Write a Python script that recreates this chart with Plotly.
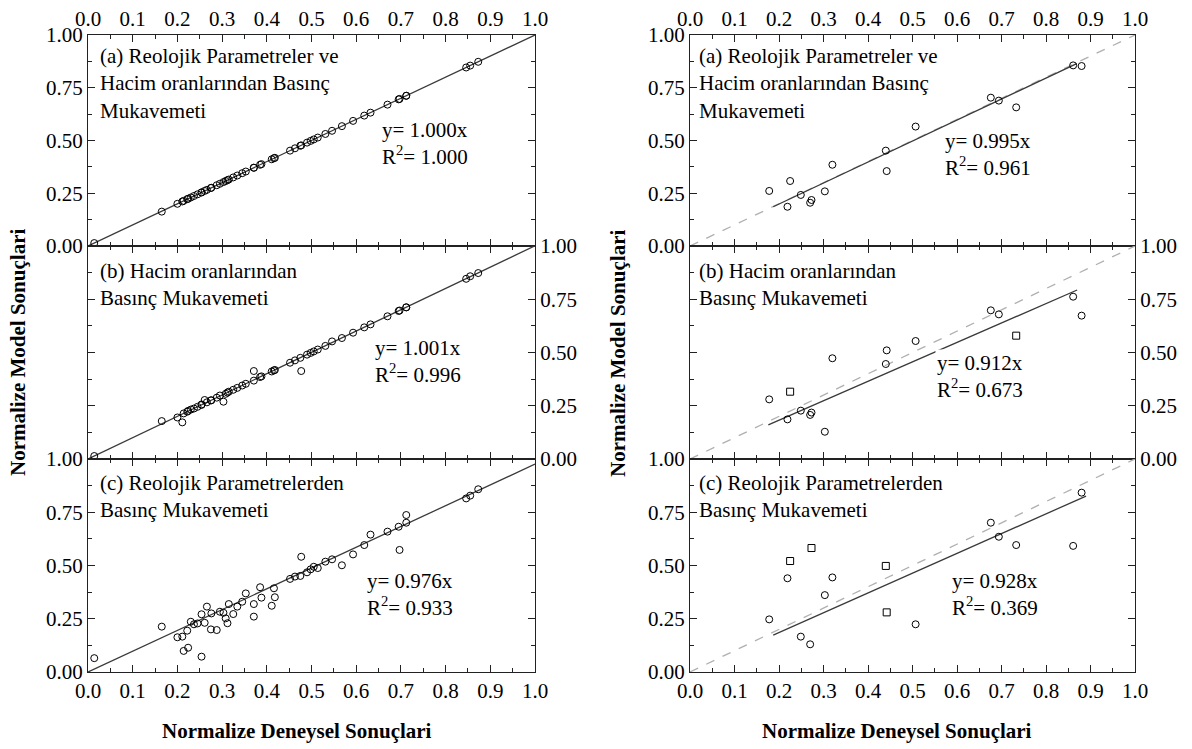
import plotly.graph_objects as go

# ---------------- data ----------------
left_x = [0.014, 0.165, 0.200, 0.211, 0.214, 0.222, 0.224, 0.230, 0.237, 0.245,
          0.254, 0.254, 0.261, 0.266, 0.275, 0.276, 0.288, 0.295, 0.303, 0.308,
          0.312, 0.315, 0.325, 0.334, 0.345, 0.353, 0.371, 0.371, 0.385, 0.388,
          0.411, 0.416, 0.418, 0.452, 0.463, 0.475, 0.477, 0.490, 0.498, 0.505,
          0.514, 0.531, 0.546, 0.568, 0.593, 0.618, 0.632, 0.670, 0.695, 0.697,
          0.712, 0.712, 0.846, 0.855, 0.873]
left_ya = [0.014, 0.163, 0.200, 0.211, 0.214, 0.222, 0.224, 0.230, 0.237, 0.245,
           0.254, 0.254, 0.261, 0.266, 0.275, 0.276, 0.288, 0.295, 0.303, 0.308,
           0.312, 0.315, 0.325, 0.334, 0.345, 0.353, 0.371, 0.371, 0.385, 0.388,
           0.411, 0.416, 0.418, 0.452, 0.463, 0.475, 0.477, 0.490, 0.498, 0.505,
           0.514, 0.531, 0.546, 0.568, 0.593, 0.618, 0.632, 0.670, 0.695, 0.697,
           0.712, 0.712, 0.846, 0.855, 0.873]
left_yb = [0.014, 0.178, 0.195, 0.172, 0.214, 0.222, 0.226, 0.232, 0.237, 0.245,
           0.254, 0.256, 0.277, 0.266, 0.275, 0.276, 0.288, 0.298, 0.269, 0.306,
           0.312, 0.316, 0.325, 0.334, 0.345, 0.353, 0.413, 0.368, 0.385, 0.388,
           0.411, 0.416, 0.418, 0.452, 0.463, 0.475, 0.413, 0.490, 0.498, 0.505,
           0.514, 0.531, 0.552, 0.568, 0.593, 0.618, 0.632, 0.670, 0.695, 0.697,
           0.712, 0.712, 0.846, 0.858, 0.873]
left_yc = [0.065, 0.213, 0.163, 0.166, 0.099, 0.194, 0.114, 0.236, 0.224, 0.228,
           0.271, 0.072, 0.231, 0.307, 0.200, 0.275, 0.197, 0.283, 0.278, 0.252,
           0.229, 0.319, 0.272, 0.307, 0.330, 0.369, 0.319, 0.260, 0.398, 0.349,
           0.311, 0.393, 0.351, 0.437, 0.448, 0.451, 0.541, 0.468, 0.482, 0.494,
           0.488, 0.518, 0.529, 0.501, 0.552, 0.596, 0.645, 0.659, 0.682, 0.573,
           0.737, 0.701, 0.815, 0.828, 0.858]

right_x = [0.178, 0.219, 0.225, 0.249, 0.270, 0.273, 0.303, 0.320,
           0.440, 0.442, 0.507, 0.676, 0.694, 0.733, 0.861, 0.880]
right_ya = [0.261, 0.186, 0.308, 0.242, 0.205, 0.218, 0.259, 0.385,
            0.452, 0.355, 0.566, 0.703, 0.689, 0.657, 0.856, 0.853]
right_yb = [0.280, 0.186, 0.316, 0.227, 0.207, 0.218, 0.128, 0.473,
            0.446, 0.510, 0.554, 0.698, 0.679, 0.579, 0.762, 0.673]
right_yc = [0.247, 0.440, 0.521, 0.166, 0.130, 0.582, 0.361, 0.444,
            0.498, 0.280, 0.224, 0.701, 0.635, 0.596, 0.592, 0.842]

left_slopes = [1.000, 1.001, 0.976]
left_r2 = [1.000, 0.996, 0.933]
right_slopes = [0.995, 0.912, 0.928]
right_r2 = [0.961, 0.673, 0.369]
right_fit_start = [0.187, 0.176, 0.187]
right_fit_end = [0.869, 0.870, 0.890]

panel_titles = ["(a) Reolojik Parametreler ve<br>Hacim oranlarından Basınç<br>Mukavemeti",
                "(b) Hacim oranlarından<br>Basınç Mukavemeti",
                "(c) Reolojik Parametrelerden<br>Basınç Mukavemeti"]
x_ticks = [0.0, 0.1, 0.2, 0.3, 0.4, 0.5, 0.6, 0.7, 0.8, 0.9, 1.0]
y_ticks = [0.0, 0.25, 0.5, 0.75, 1.0]
x_title = "Normalize Deneysel Sonuçlari"
y_title = "Normalize Model Sonuçlari"

# marker styles (indices drawn as squares in the right panels)
right_square_idx = [[], [2, 13], [2, 5, 8, 9]]

# ---------------- layout geometry ----------------
W, H = 1192, 749
FONT = "Liberation Serif, Times New Roman, serif"
col_px = [(88, 535), (690, 1135)]
row_px = [(35, 246), (246, 459), (459, 672)]

def dx(a, b):
    return [a / W, b / W]

def dy(top, bottom):
    return [1 - bottom / H, 1 - top / H]

fig = go.Figure()
layout = {}
annotations = []

left_ys = [left_ya, left_yb, left_yc]
right_ys = [right_ya, right_yb, right_yc]

for c in range(2):
    for r in range(3):
        i = c * 3 + r + 1
        xa = "x" if i == 1 else f"x{i}"
        ya = "y" if i == 1 else f"y{i}"
        if c == 0:
            fig.add_trace(go.Scatter(x=[0, 1], y=[0, left_slopes[r]], mode="lines",
                                     line=dict(color="#3a3a3a", width=1.3),
                                     xaxis=xa, yaxis=ya, showlegend=False, hoverinfo="skip"))
            fig.add_trace(go.Scatter(x=left_x, y=left_ys[r], mode="markers",
                                     marker=dict(symbol="circle-open", size=7,
                                                 color="black", line=dict(width=1)),
                                     xaxis=xa, yaxis=ya, showlegend=False))
            slope, r2 = left_slopes[r], left_r2[r]
        else:
            fig.add_trace(go.Scatter(x=[0, 1], y=[0, 1], mode="lines",
                                     line=dict(color="#b0b0b0", width=1.3, dash="dash"),
                                     xaxis=xa, yaxis=ya, showlegend=False, hoverinfo="skip"))
            xs, xe = right_fit_start[r], right_fit_end[r]
            fig.add_trace(go.Scatter(x=[xs, xe], y=[xs * right_slopes[r], xe * right_slopes[r]],
                                     mode="lines", line=dict(color="#3a3a3a", width=1.3),
                                     xaxis=xa, yaxis=ya, showlegend=False, hoverinfo="skip"))
            syms = ["square-open" if k in right_square_idx[r] else "circle-open"
                    for k in range(len(right_x))]
            fig.add_trace(go.Scatter(x=right_x, y=right_ys[r], mode="markers",
                                     marker=dict(symbol=syms, size=7,
                                                 color="black", line=dict(width=1)),
                                     xaxis=xa, yaxis=ya, showlegend=False))
            slope, r2 = right_slopes[r], right_r2[r]

        x0, x1 = col_px[c]
        t, b = row_px[r]
        xkey = "xaxis" if i == 1 else f"xaxis{i}"
        ykey = "yaxis" if i == 1 else f"yaxis{i}"
        layout[xkey] = dict(
            domain=dx(x0, x1), range=[0, 1], anchor=ya, automargin=False,
            showline=True, linecolor="#222", linewidth=1, mirror="ticks",
            ticks="inside", ticklen=7, tickwidth=1, tickcolor="#222",
            tickvals=x_ticks, ticktext=[f"{v:.1f}" for v in x_ticks],
            minor=dict(ticks="inside", ticklen=4, tickvals=[k / 20 for k in range(1, 20, 2)],
                       tickcolor="#222", showgrid=False),
            showgrid=False, zeroline=False,
            side="top" if r == 0 else "bottom",
            showticklabels=(r != 1),
            tickfont=dict(family=FONT, size=21, color="black"),
        )
        layout[ykey] = dict(
            domain=dy(t, b), range=[0, 1], anchor=xa, automargin=False,
            showline=True, linecolor="#222", linewidth=1, mirror="ticks",
            ticks="inside", ticklen=7, tickwidth=1, tickcolor="#222",
            tickvals=y_ticks, ticktext=[f"{v:.2f}" for v in y_ticks],
            minor=dict(ticks="inside", ticklen=4, tickvals=[0.125, 0.375, 0.625, 0.875],
                       tickcolor="#222", showgrid=False),
            showgrid=False, zeroline=False,
            side="right" if r == 1 else "left",
            tickfont=dict(family=FONT, size=21, color="black"),
        )

        # panel title
        title_top = [0.967, 0.948, 0.953][r]
        title_x = 0.022 if c == 0 else 0.016
        annotations.append(dict(x=title_x, y=title_top, xref=xa, yref=ya,
                                xanchor="left", yanchor="top", align="left",
                                text=panel_titles[r], showarrow=False,
                                font=dict(family=FONT, size=21, color="black")))
        # equation
        eq_pos = [[(0.654, 0.487), (0.638, 0.458), (0.620, 0.362)],
                  [(0.569, 0.436), (0.551, 0.387), (0.584, 0.362)]][c][r]
        annotations.append(dict(x=eq_pos[0], y=eq_pos[1], xref=xa, yref=ya,
                                xanchor="left", yanchor="middle", align="left",
                                text=f"y= {slope:.3f}x<br>R<sup>2</sup>= {r2:.3f}",
                                showarrow=False,
                                bgcolor="white" if c == 1 else None,
                                font=dict(family=FONT, size=21, color="black")))

# axis titles
for cx in [297 / W, 897 / W]:
    annotations.append(dict(x=cx, y=1 - 731 / H, xref="paper", yref="paper",
                            xanchor="center", yanchor="middle", showarrow=False,
                            text=f"<b>{x_title}</b>",
                            font=dict(family=FONT, size=21, color="black")))
for cx in [18 / W, 618 / W]:
    annotations.append(dict(x=cx, y=1 - 353 / H, xref="paper", yref="paper",
                            xanchor="center", yanchor="middle", showarrow=False,
                            textangle=-90, text=f"<b>{y_title}</b>",
                            font=dict(family=FONT, size=21, color="black")))

fig.update_layout(**layout)
fig.update_layout(width=W, height=H, margin=dict(l=0, r=0, t=0, b=0),
                  paper_bgcolor="white", plot_bgcolor="white",
                  annotations=annotations, showlegend=False,
                  font=dict(family=FONT, size=21, color="black"))

fig.write_html("out.html")
